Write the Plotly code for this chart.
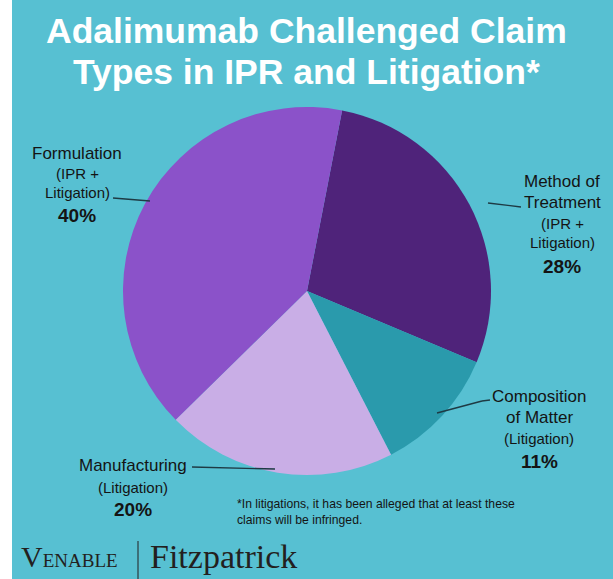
import plotly.graph_objects as go

W, H = 613, 579

categories = ["Method of Treatment", "Composition of Matter", "Manufacturing", "Formulation"]
shares = [28, 11, 20, 40]
slice_colors = ["#4F237A", "#2A9AAC", "#C9AEE6", "#8B52C9"]

BG = "#57C0D2"
TXT = "#141414"
FONT = "'Liberation Sans', Arial, sans-serif"
SERIF = "'Liberation Serif', 'Times New Roman', serif"


def px(x):
    return x / W


def py(y):
    return 1 - y / H


fig = go.Figure()
fig.add_trace(go.Pie(
    labels=categories,
    values=shares,
    sort=False,
    direction="clockwise",
    rotation=11,
    marker=dict(colors=slice_colors, line=dict(width=0)),
    textinfo="none",
    hoverinfo="label+percent",
    showlegend=False,
    domain=dict(x=[px(123), px(491)], y=[py(475), py(107)]),
))

annotations = []


def txt(x, y, text, size, bold=False, xanchor="center", family=FONT, color=TXT):
    annotations.append(dict(
        x=px(x), y=py(y), xref="paper", yref="paper", text=text,
        showarrow=False, xanchor=xanchor, yanchor="middle",
        align=xanchor if xanchor != "center" else "center",
        font=dict(family=family, size=size, color=color, weight="bold" if bold else "normal"),
    ))


# Title
txt(306, 31, "Adalimumab Challenged Claim", 35.5, bold=True, color="white")
txt(306, 72, "Types in IPR and Litigation*", 35.5, bold=True, color="white")

pct = {c: f"{v}%" for c, v in zip(categories, shares)}

# Formulation
txt(77, 153, "Formulation", 17)
txt(77, 173, "(IPR +", 15)
txt(77, 192, "Litigation)", 15)
txt(77, 215, pct["Formulation"], 19, bold=True)

# Method of Treatment
txt(562, 182, "Method of", 17)
txt(562, 202, "Treatment", 17)
txt(562, 223, "(IPR +", 15)
txt(562, 243, "Litigation)", 15)
txt(562, 266, pct["Method of Treatment"], 19, bold=True)

# Composition of Matter
txt(539, 396, "Composition", 17)
txt(539, 417, "of Matter", 17)
txt(539, 438, "(Litigation)", 15)
txt(539, 461, pct["Composition of Matter"], 19, bold=True)

# Manufacturing
txt(133, 465, "Manufacturing", 17)
txt(133, 487, "(Litigation)", 15)
txt(133, 509, pct["Manufacturing"], 19, bold=True)

# Footnote
txt(235, 504, "*In litigations, it has been alleged that at least these", 12.2, xanchor="left")
txt(235, 520, "claims will be infringed.", 12.2, xanchor="left")

# Logo
txt(19, 556,
    "V<span style='font-size:19px'>ENABLE</span>",
    30, xanchor="left", family=SERIF, color="#231F20")
txt(148, 556, "Fitzpatrick", 34, xanchor="left", family=SERIF, color="#231F20")

shapes = [
    dict(type="rect", xref="paper", yref="paper", x0=0, x1=px(12), y0=0, y1=1,
         fillcolor="white", line=dict(width=0), layer="below"),
    dict(type="line", xref="paper", yref="paper", x0=px(138), x1=px(138), y0=py(541), y1=py(579),
         line=dict(color="#231F20", width=1)),
]


def leader(points):
    for (x0, y0), (x1, y1) in zip(points[:-1], points[1:]):
        shapes.append(dict(type="line", xref="paper", yref="paper",
                           x0=px(x0), y0=py(y0), x1=px(x1), y1=py(y1),
                           line=dict(color="#1E3A44", width=1.3)))


leader([(113, 198), (150, 201)])
leader([(488, 203), (521, 207)])
leader([(437, 413), (482, 401), (490, 400)])
leader([(192, 467), (275, 469)])

fig.update_layout(
    width=W, height=H,
    margin=dict(l=0, r=0, t=0, b=0),
    paper_bgcolor=BG,
    annotations=annotations,
    shapes=shapes,
)

fig.write_html("out.html")
